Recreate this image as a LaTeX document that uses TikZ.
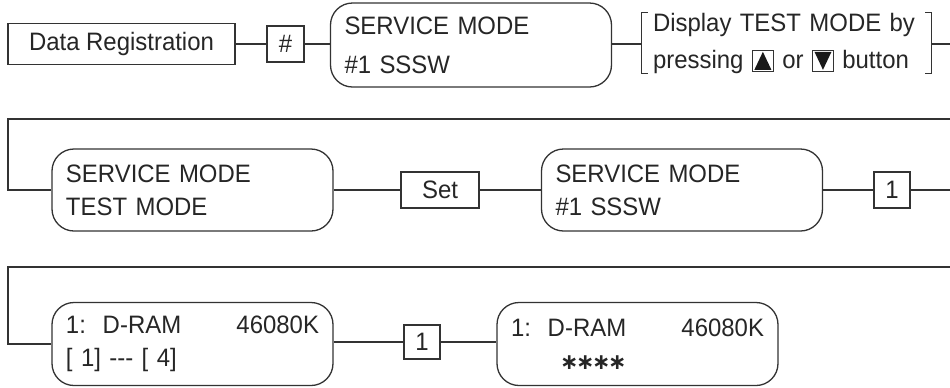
\documentclass[tikz,border=0pt]{standalone}
\usepackage{fontspec}
\setmainfont{Liberation Sans}[FakeStretch=0.95]
\newfontfamily\symfont{DejaVu Sans}
\usepackage{tikz}
\newcommand{\btnup}{\tikz[baseline=0pt]{\draw[draw=black!80, line width=0.5pt] (0pt,-1.8pt) rectangle (10.5pt,9pt);
    \fill[black!90] (1pt,-0.9pt) -- (9.5pt,-0.9pt) -- (5.25pt,8.1pt) -- cycle;}}
\newcommand{\btndown}{\tikz[baseline=0pt]{\draw[draw=black!80, line width=0.5pt] (0pt,-1.8pt) rectangle (10.5pt,9pt);
    \fill[black!90] (1pt,8.1pt) -- (9.5pt,8.1pt) -- (5.25pt,-0.9pt) -- cycle;}}

\begin{document}
\begin{tikzpicture}[x=0.5pt,y=-0.5pt,
    every node/.style={font=\fontsize{12.6}{16.5}\selectfont, text=black!85},
    line/.style={draw=black!80, line width=0.65pt},
    plainbox/.style={line, rectangle, inner sep=0pt, minimum height=18pt},
    panel/.style={line, rounded corners=11pt, minimum width=140.5pt, minimum height=41pt,
        inner xsep=7pt, inner ysep=0pt, text width=126.5pt, align=left}]
    \useasboundingbox (0,0) rectangle (950,387);

    \node[plainbox, minimum width=113.5pt, minimum height=20.5pt] (reg) at (121.5,44) {Data Registration};
    \node[plainbox, minimum width=18.5pt] (hash) at (285.5,44) {\#};
    \node[panel, minimum height=42pt] (sm1) at (471,45) {SERVICE MODE\\[3pt]\#1 SSSW};
    \node[minimum width=144.5pt, minimum height=30pt, inner xsep=5.5pt, inner ysep=0pt,
        text width=133.5pt, align=left] (note) at (786.5,43) {Display TEST MODE by\\[2pt]pressing \btnup{} or \btndown{} button};
    \draw[line] ([xshift=3pt]note.north west) -- (note.north west) -- (note.south west) -- ++(3pt,0);
    \draw[line] ([xshift=-3pt]note.north east) -- (note.north east) -- (note.south east) -- ++(-3pt,0);
    \coordinate (e1) at (950,44);
    \draw[line] (reg) -- (hash) (hash) -- (sm1.west |- hash) (sm1.east |- e1) -- (note.west |- e1) (note.east |- e1) -- (e1);

    \coordinate (w2) at (950,119);
    \coordinate (c2) at (8,119);
    \node[panel] (sm2) at (192.5,190) {SERVICE MODE\\TEST MODE};
    \node[plainbox, minimum width=39pt] (set) at (440,190) {Set};
    \node[panel] (sm3) at (682,190) {SERVICE MODE\\\#1 SSSW};
    \node[plainbox, minimum width=18pt] (one1) at (892,190) {1};
    \coordinate (e2) at (950,190);
    \draw[line] (w2) -- (c2) |- (sm2.west);
    \draw[line] (sm2) -- (set) (set) -- (sm3) (sm3) -- (one1) (one1) -- (e2);

    \coordinate (w3) at (950,267);
    \coordinate (c3) at (8,267);
    \node[panel, minimum height=41.5pt] (dram1) at (192.5,344) {1:\ \ D-RAM\hfill 46080K\hspace*{3pt}\\{}[ 1] {-}{-}{-} [ 4]};
    \node[plainbox, minimum width=18pt, minimum height=17pt] (one2) at (422,342) {1};
    \node[panel, minimum height=41.5pt] (dram2) at (637.5,344) {1:\ \ D-RAM\hfill 46080K\hspace*{3pt}\\\hspace*{24.5pt}{\symfont\bfseries\fontsize{11}{16.5}\selectfont ∗\kern-1.2pt∗\kern-1.2pt∗\kern-1.2pt∗}};
    \draw[line] (w3) -- (c3) |- (dram1.west);
    \draw[line] (dram1.east |- one2) -- (one2) (one2) -- (dram2.west |- one2);
\end{tikzpicture}
\end{document}
